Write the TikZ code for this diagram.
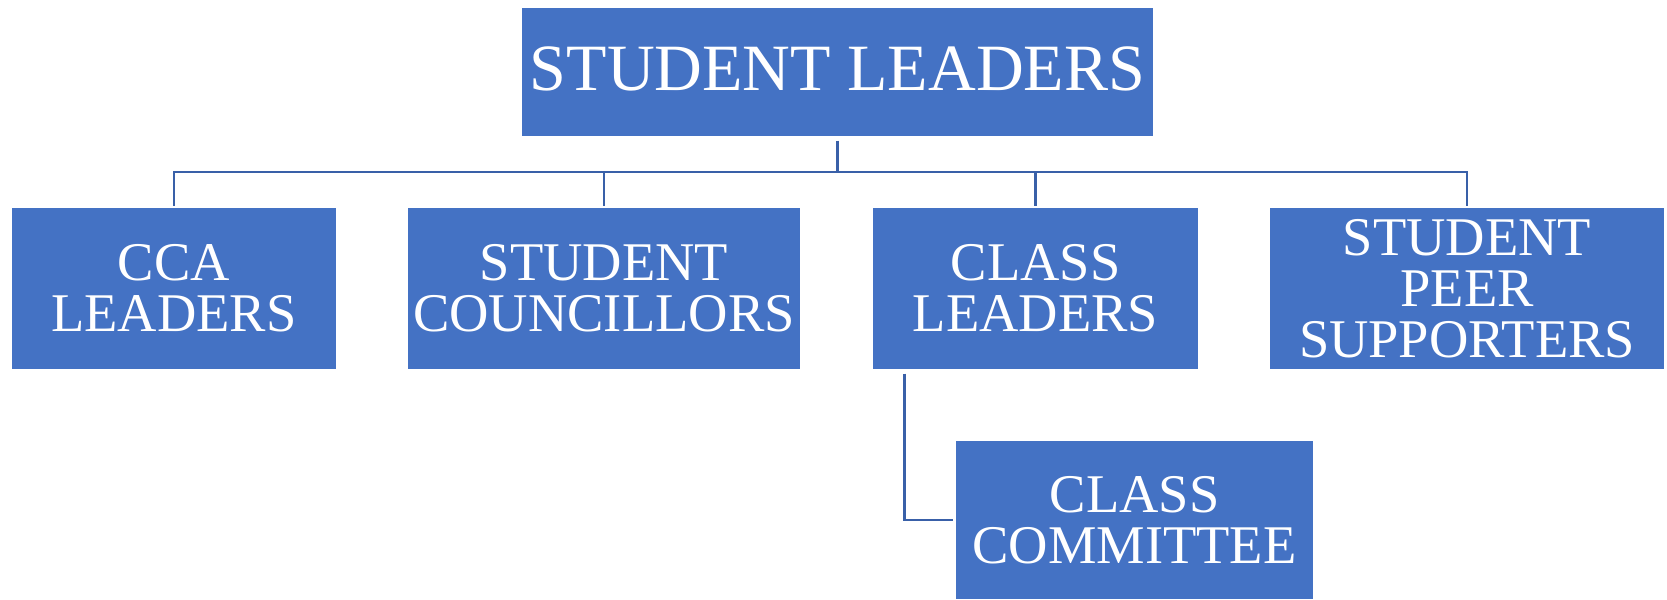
\documentclass[tikz,border=0pt]{standalone}
\usepackage{fontspec}
\setmainfont{Liberation Serif}
\definecolor{boxblue}{HTML}{4472C4}
\definecolor{lineblue}{HTML}{3960A8}
\tikzset{
  rolebox/.style={fill=boxblue, text=white, align=center, inner sep=0pt,
    font=\fontsize{15.5}{14.5}\selectfont},
  link/.style={draw=lineblue, line width=0.8pt, shorten <=0.4pt}
}
\begin{document}
\begin{tikzpicture}[x=0.01cm, y=-0.01cm]
			\useasboundingbox (0,0) rectangle (1667,599);

			\node[rolebox, minimum width=6.31cm, minimum height=1.275cm,
				font=\fontsize{18.8}{18.8}\selectfont] (leaders) at(837.5, 72.25){\raisebox{0.08cm}{STUDENT LEADERS}};

			\node[rolebox, minimum width=3.24cm, minimum height=1.61cm] (cca) at(174, 288.5){CCA\\LEADERS};
			\node[rolebox, minimum width=3.925cm, minimum height=1.61cm] (council) at(604, 288.5){STUDENT\\COUNCILLORS};
			\node[rolebox, minimum width=3.25cm, minimum height=1.61cm] (class) at(1035.5, 288.5){CLASS\\LEADERS};
			\node[rolebox, minimum width=3.94cm, minimum height=1.61cm] (peer) at(1467, 288.5){STUDENT\\PEER\\SUPPORTERS};

			\node[rolebox, minimum width=3.57cm, minimum height=1.575cm] (committee) at(1134.5, 520){CLASS\\COMMITTEE};

			\coordinate (bus) at(837.5, 172);
			\draw[link, shorten <=1.1pt] (leaders.south) to (bus);
			\draw[link] (cca.north) |- (bus);
			\draw[link] (council.north) |- (bus);
			\draw[link] (class.north) |- (bus);
			\draw[link] (peer.north) |- (bus);

			\draw[link, shorten <=1.1pt, shorten >=0.6pt]
				([xshift=0.32cm]class.south west) |- (committee.west);
		\end{tikzpicture}
\end{document}
